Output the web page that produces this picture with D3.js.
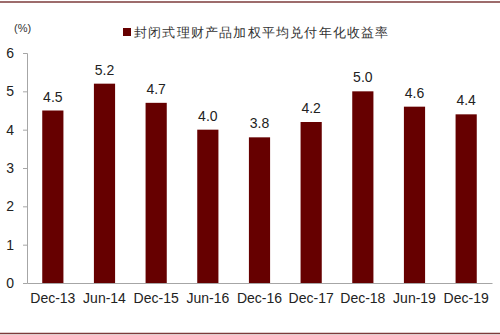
<!DOCTYPE html>
<html>
<head>
<meta charset="utf-8">
<script src="https://cdn.jsdelivr.net/npm/d3@7"></script>
<style>
  body { margin: 0; background: #fff; }
  text { font-family: "Liberation Sans", Arial, sans-serif; }
</style>
</head>
<body>
<svg id="chart"></svg>
<script>
const categories = ["Dec-13", "Jun-14", "Dec-15", "Jun-16", "Dec-16", "Dec-17", "Dec-18", "Jun-19", "Dec-19"];
const yieldValues = [4.5, 5.2, 4.7, 4.0, 3.8, 4.2, 5.0, 4.6, 4.4];
const yTicks = [0, 1, 2, 3, 4, 5, 6];
const seriesName = "封闭式理财产品加权平均兑付年化收益率";

const W = 500, H = 335;
const margin = { top: 53, right: 8, bottom: 52, left: 27 };
const width = W - margin.left - margin.right;
const height = H - margin.top - margin.bottom;

const root = d3.select("#chart").attr("width", W).attr("height", H);

// frame lines top and bottom
root.append("line").attr("x1", 0).attr("x2", W).attr("y1", 2).attr("y2", 2)
    .attr("stroke", "#7d3b3b").attr("stroke-width", 1.5);
root.append("line").attr("x1", 0).attr("x2", W).attr("y1", 333.5).attr("y2", 333.5)
    .attr("stroke", "#7d3b3b").attr("stroke-width", 1.5);

const svg = root.append("g").attr("transform", `translate(${margin.left},${margin.top})`);

const x = d3.scaleBand().domain(categories).range([0, width]).paddingInner(0.59).paddingOuter(0.295);
const y = d3.scaleLinear().domain([0, 6]).range([height, 0]);

// y axis
const yAxis = svg.append("g")
    .call(d3.axisLeft(y).tickValues(yTicks).tickSize(4).tickPadding(9).tickFormat(d3.format("d")));
yAxis.select(".domain").attr("stroke", "#a6a6a6");
yAxis.selectAll(".tick line").attr("stroke", "#a6a6a6");
yAxis.selectAll(".tick text").attr("font-size", 14).attr("fill", "#222");

// x axis
const xAxis = svg.append("g").attr("transform", `translate(0,${height})`)
    .call(d3.axisBottom(x).tickSize(0).tickPadding(10));
xAxis.select(".domain").attr("stroke", "#a6a6a6");
xAxis.selectAll(".tick text").attr("font-size", 14).attr("fill", "#222");

// bars
svg.selectAll(".bar")
    .data(yieldValues)
    .enter().append("rect")
    .attr("class", "bar")
    .attr("x", (d, i) => x(categories[i]))
    .attr("y", d => y(d))
    .attr("width", x.bandwidth())
    .attr("height", d => height - y(d))
    .attr("fill", "#660000");

// value labels
svg.selectAll(".val")
    .data(yieldValues)
    .enter().append("text")
    .attr("class", "val")
    .attr("x", (d, i) => x(categories[i]) + x.bandwidth() / 2)
    .attr("y", d => y(d) - 9)
    .attr("text-anchor", "middle")
    .attr("font-size", 14)
    .attr("fill", "#222")
    .text(d => d.toFixed(1));

// unit label
root.append("text").attr("x", 14).attr("y", 32)
    .attr("font-size", 11).attr("fill", "#333").text("(%)");

// legend
root.append("rect").attr("x", 123).attr("y", 28).attr("width", 8).attr("height", 8).attr("fill", "#660000");
root.append("text").attr("x", 134).attr("y", 37)
    .attr("font-family", "'Noto Sans CJK SC', sans-serif")
    .attr("font-size", 12.5).attr("letter-spacing", 1.2).attr("fill", "#333")
    .text(seriesName);
</script>
</body>
</html>
